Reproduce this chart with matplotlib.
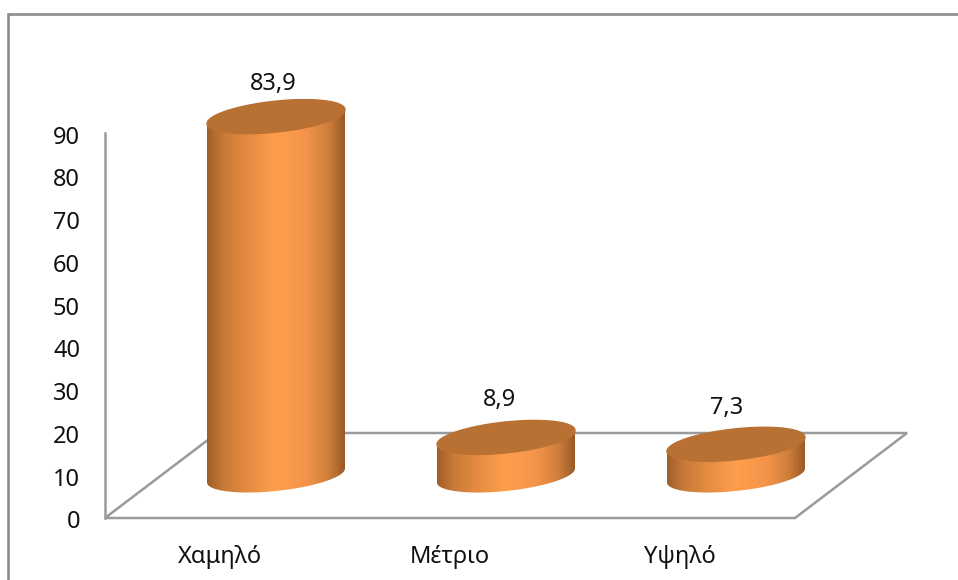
import matplotlib
matplotlib.use('Agg')
import matplotlib.pyplot as plt
import numpy as np
from matplotlib.colors import LinearSegmentedColormap
from matplotlib.patches import PathPatch, Polygon, Rectangle
from matplotlib.path import Path
from matplotlib.transforms import ScaledTranslation

categories = ['Χαμηλό', 'Μέτριο', 'Υψηλό']
values = [83.9, 8.9, 7.3]
labels = ['83,9', '8,9', '7,3']
yticks = [0, 10, 20, 30, 40, 50, 60, 70, 80, 90]

plt.rcParams['font.family'] = ['Noto Sans', 'DejaVu Sans']

W, H = 958, 580
GREY = '#9a9a9a'
TOP = '#b97133'
side_cmap = LinearSegmentedColormap.from_list('side', [
    (0.0, '#a05e2a'), (0.12, '#c87a38'), (0.3, '#e58c42'), (0.5, '#ff9f4c'),
    (0.72, '#f4944a'), (0.88, '#cf7f3b'), (1.0, '#9a5a28')])

fig = plt.figure(figsize=(W / 100, H / 100), dpi=100)
ax = fig.add_axes([105 / W, 1 - 518 / H, 690 / W, 385 / H])
ax.set_xlim(0, 3)
ax.set_ylim(0, 90)
sx = 690 / 3
sy = 385 / 90

# outer chart frame
fig.add_artist(Rectangle((8 / W, -0.1), 1.1, 1.1 - 14 / H, transform=fig.transFigure,
                         fill=False, ec='#8c8c8c', lw=1.9))

# floor of the 3d plot, depth given in pixels
depth_x, depth_y = 112 / sx, 85 / sy
ax.add_patch(Polygon([(0, 0), (3, 0), (3 + depth_x, depth_y), (depth_x, depth_y)], closed=True,
                     fill=False, ec=GREY, lw=1.8, clip_on=False, zorder=1, joinstyle='miter'))
ax.plot([0, 0], [0, 90], color=GREY, lw=1.8, clip_on=False, zorder=1)


def ring(cx, cy, t):
    # tilted ellipse, right side sits higher than the left
    return cx + 69 * np.cos(t) / sx, cy + (7 * np.cos(t) + 15.5 * np.sin(t)) / sy


t_all = np.linspace(0, 2 * np.pi, 121)
t_low = np.linspace(np.pi, 2 * np.pi, 61)
# label offsets from the top of each cylinder, in pixels
nudge_x = [-3, -6, -9]
nudge_y = [33, 37, 36]
for i, (val, lab) in enumerate(zip(values, labels)):
    cx = i + 0.5 + depth_x / 2
    base = depth_y / 2
    top = base + val
    xb, yb = ring(cx, base, t_low)
    xt, yt = ring(cx, top, t_low[::-1])
    verts = np.column_stack([np.r_[xb, xt, xb[0]], np.r_[yb, yt, yb[0]]])
    codes = [Path.MOVETO] + [Path.LINETO] * (len(verts) - 2) + [Path.CLOSEPOLY]
    clip = PathPatch(Path(verts, codes), fc='none', ec='none', transform=ax.transData,
                     clip_on=False)
    ax.add_patch(clip)
    im = ax.imshow(np.linspace(0, 1, 256).reshape(1, -1), cmap=side_cmap, aspect='auto',
                   extent=[cx - 69 / sx, cx + 69 / sx, base - 20 / sy, top + 20 / sy],
                   zorder=2)
    im.set_clip_path(clip)
    # let the gradient run past the axes box, the cylinders stand in front of it
    im.set_clip_box(fig.bbox)
    xe, ye = ring(cx, top, t_all)
    ax.fill(xe, ye, color=TOP, zorder=3, clip_on=False)
    ax.text(cx + nudge_x[i] / sx, top + nudge_y[i] / sy, lab, ha='center', va='center',
            fontsize=17, color='#111111', clip_on=False)

ax.set_xlim(0, 3)
ax.set_ylim(0, 90)
ax.set_xticks([0.5, 1.5, 2.5])
ax.set_xticklabels(categories)
ax.set_yticks(yticks)
ax.tick_params(axis='both', length=0, labelsize=17, labelcolor='#111111')
ax.tick_params(axis='x', pad=19.5)
ax.tick_params(axis='y', pad=18)
# y labels sit a little below their gridline height
shift = ScaledTranslation(0, -1.5 / 100, fig.dpi_scale_trans)
for t in ax.get_yticklabels():
    t.set_transform(t.get_transform() + shift)
for s in ax.spines.values():
    s.set_visible(False)
ax.patch.set_visible(False)

fig.savefig('out.png', dpi=100)
